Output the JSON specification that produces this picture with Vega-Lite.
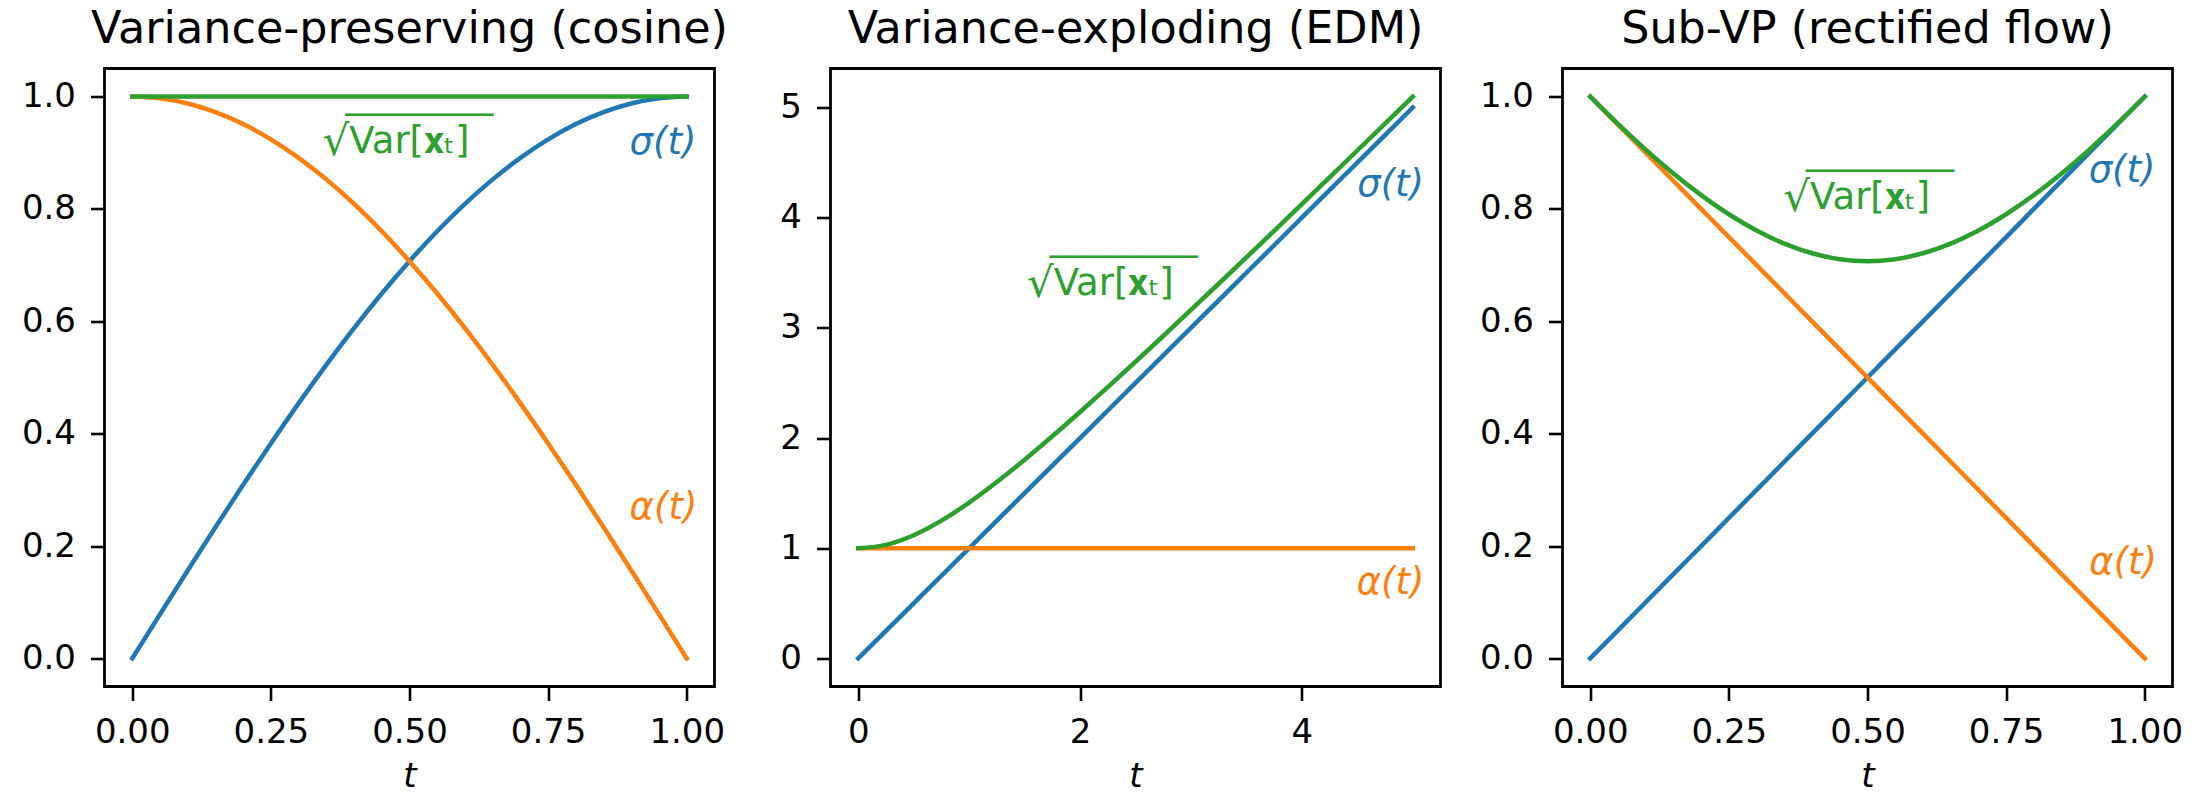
{
  "$schema": "https://vega.github.io/schema/vega-lite/v6.json",
  "autosize": {"type": "pad"},
  "padding": {"left": 19.5, "top": 5.5, "right": 0, "bottom": 0},
  "background": "white",
  "config": {
    "font": "DejaVu Sans",
    "view": {"stroke": "black", "strokeWidth": 2.8},
    "axis": {
      "domain": false, "grid": false, "ticks": true,
      "tickColor": "black", "tickWidth": 2.6, "tickSize": 14,
      "labelFont": "DejaVu Sans", "labelFontSize": 34, "labelColor": "black", "labelPadding": 15,
      "titleFont": "DejaVu Sans", "titleFontSize": 34, "titleFontWeight": "normal",
      "titleFontStyle": "italic", "titleColor": "black"
    },
    "axisX": {"titlePadding": 10},
    "title": {"font": "DejaVu Sans", "fontSize": 44.5, "fontWeight": "normal", "color": "black", "offset": 16},
    "line": {"strokeWidth": 4.5, "strokeCap": "square", "interpolate": "monotone"},
    "text": {"font": "DejaVu Sans", "fontSize": 37}
  },
  "datasets": {
    "vp": [
      {"t": 0, "sigma": 0, "alpha": 1, "sd": 1},
      {"t": 0.05, "sigma": 0.07846, "alpha": 0.99692, "sd": 1},
      {"t": 0.1, "sigma": 0.15643, "alpha": 0.98769, "sd": 1},
      {"t": 0.15, "sigma": 0.23345, "alpha": 0.97237, "sd": 1},
      {"t": 0.2, "sigma": 0.30902, "alpha": 0.95106, "sd": 1},
      {"t": 0.25, "sigma": 0.38268, "alpha": 0.92388, "sd": 1},
      {"t": 0.3, "sigma": 0.45399, "alpha": 0.89101, "sd": 1},
      {"t": 0.35, "sigma": 0.5225, "alpha": 0.85264, "sd": 1},
      {"t": 0.4, "sigma": 0.58779, "alpha": 0.80902, "sd": 1},
      {"t": 0.45, "sigma": 0.64945, "alpha": 0.76041, "sd": 1},
      {"t": 0.5, "sigma": 0.70711, "alpha": 0.70711, "sd": 1},
      {"t": 0.55, "sigma": 0.76041, "alpha": 0.64945, "sd": 1},
      {"t": 0.6, "sigma": 0.80902, "alpha": 0.58779, "sd": 1},
      {"t": 0.65, "sigma": 0.85264, "alpha": 0.5225, "sd": 1},
      {"t": 0.7, "sigma": 0.89101, "alpha": 0.45399, "sd": 1},
      {"t": 0.75, "sigma": 0.92388, "alpha": 0.38268, "sd": 1},
      {"t": 0.8, "sigma": 0.95106, "alpha": 0.30902, "sd": 1},
      {"t": 0.85, "sigma": 0.97237, "alpha": 0.23345, "sd": 1},
      {"t": 0.9, "sigma": 0.98769, "alpha": 0.15643, "sd": 1},
      {"t": 0.95, "sigma": 0.99692, "alpha": 0.07846, "sd": 1},
      {"t": 1, "sigma": 1, "alpha": 0, "sd": 1}
    ],
    "ve": [
      {"t": 0, "sigma": 0, "alpha": 1, "sd": 1},
      {"t": 0.25, "sigma": 0.25, "alpha": 1, "sd": 1.03078},
      {"t": 0.5, "sigma": 0.5, "alpha": 1, "sd": 1.11803},
      {"t": 0.75, "sigma": 0.75, "alpha": 1, "sd": 1.25},
      {"t": 1, "sigma": 1, "alpha": 1, "sd": 1.41421},
      {"t": 1.25, "sigma": 1.25, "alpha": 1, "sd": 1.60078},
      {"t": 1.5, "sigma": 1.5, "alpha": 1, "sd": 1.80278},
      {"t": 1.75, "sigma": 1.75, "alpha": 1, "sd": 2.01556},
      {"t": 2, "sigma": 2, "alpha": 1, "sd": 2.23607},
      {"t": 2.25, "sigma": 2.25, "alpha": 1, "sd": 2.46221},
      {"t": 2.5, "sigma": 2.5, "alpha": 1, "sd": 2.69258},
      {"t": 2.75, "sigma": 2.75, "alpha": 1, "sd": 2.92617},
      {"t": 3, "sigma": 3, "alpha": 1, "sd": 3.16228},
      {"t": 3.25, "sigma": 3.25, "alpha": 1, "sd": 3.40037},
      {"t": 3.5, "sigma": 3.5, "alpha": 1, "sd": 3.64005},
      {"t": 3.75, "sigma": 3.75, "alpha": 1, "sd": 3.88104},
      {"t": 4, "sigma": 4, "alpha": 1, "sd": 4.12311},
      {"t": 4.25, "sigma": 4.25, "alpha": 1, "sd": 4.36606},
      {"t": 4.5, "sigma": 4.5, "alpha": 1, "sd": 4.60977},
      {"t": 4.75, "sigma": 4.75, "alpha": 1, "sd": 4.85412},
      {"t": 5, "sigma": 5, "alpha": 1, "sd": 5.09902}
    ],
    "subvp": [
      {"t": 0, "sigma": 0, "alpha": 1, "sd": 1},
      {"t": 0.05, "sigma": 0.05, "alpha": 0.95, "sd": 0.95131},
      {"t": 0.1, "sigma": 0.1, "alpha": 0.9, "sd": 0.90554},
      {"t": 0.15, "sigma": 0.15, "alpha": 0.85, "sd": 0.86313},
      {"t": 0.2, "sigma": 0.2, "alpha": 0.8, "sd": 0.82462},
      {"t": 0.25, "sigma": 0.25, "alpha": 0.75, "sd": 0.79057},
      {"t": 0.3, "sigma": 0.3, "alpha": 0.7, "sd": 0.76158},
      {"t": 0.35, "sigma": 0.35, "alpha": 0.65, "sd": 0.73824},
      {"t": 0.4, "sigma": 0.4, "alpha": 0.6, "sd": 0.72111},
      {"t": 0.45, "sigma": 0.45, "alpha": 0.55, "sd": 0.71063},
      {"t": 0.5, "sigma": 0.5, "alpha": 0.5, "sd": 0.70711},
      {"t": 0.55, "sigma": 0.55, "alpha": 0.45, "sd": 0.71063},
      {"t": 0.6, "sigma": 0.6, "alpha": 0.4, "sd": 0.72111},
      {"t": 0.65, "sigma": 0.65, "alpha": 0.35, "sd": 0.73824},
      {"t": 0.7, "sigma": 0.7, "alpha": 0.3, "sd": 0.76158},
      {"t": 0.75, "sigma": 0.75, "alpha": 0.25, "sd": 0.79057},
      {"t": 0.8, "sigma": 0.8, "alpha": 0.2, "sd": 0.82462},
      {"t": 0.85, "sigma": 0.85, "alpha": 0.15, "sd": 0.86313},
      {"t": 0.9, "sigma": 0.9, "alpha": 0.1, "sd": 0.90554},
      {"t": 0.95, "sigma": 0.95, "alpha": 0.05, "sd": 0.95131},
      {"t": 1, "sigma": 1, "alpha": 0, "sd": 1}
    ],
    "labels": [
      {"panel": "vp", "series": "sd", "t": 0.505, "y": 0.9, "label": "\u221aVar[\ud835\udc31\u209c]"},
      {"panel": "vp", "series": "sigma", "t": 0.957, "y": 0.917, "label": "\u03c3(t)"},
      {"panel": "vp", "series": "alpha", "t": 0.958, "y": 0.267, "label": "\u03b1(t)"},
      {"panel": "ve", "series": "sd", "t": 2.33, "y": 3.3, "label": "\u221aVar[\ud835\udc31\u209c]"},
      {"panel": "ve", "series": "sigma", "t": 4.8, "y": 4.295, "label": "\u03c3(t)"},
      {"panel": "ve", "series": "alpha", "t": 4.8, "y": 0.68, "label": "\u03b1(t)"},
      {"panel": "subvp", "series": "sd", "t": 0.51, "y": 0.8, "label": "\u221aVar[\ud835\udc31\u209c]"},
      {"panel": "subvp", "series": "sigma", "t": 0.959, "y": 0.867, "label": "\u03c3(t)"},
      {"panel": "subvp", "series": "alpha", "t": 0.961, "y": 0.169, "label": "\u03b1(t)"}
    ]
  },
  "bounds": "flush",
  "spacing": 116,
  "hconcat": [
    {
      "width": 610, "height": 618,
      "title": "Variance-preserving (cosine)",
      "data": {"name": "vp"},
      "encoding": {
        "x": {"field": "t", "type": "quantitative",
              "scale": {"domain": [-0.05, 1.05], "nice": false, "zero": false},
              "axis": {"values": [0, 0.25, 0.5, 0.75, 1], "format": ".2f", "title": "t"}}
      },
      "layer": [
        {"mark": {"type": "line", "color": "#1f77b4"},
         "encoding": {"y": {"field": "sigma", "type": "quantitative",
                            "scale": {"domain": [-0.05, 1.05], "nice": false, "zero": false},
                            "axis": {"values": [0, 0.2, 0.4, 0.6, 0.8, 1], "format": ".1f", "title": null}}}},
        {"mark": {"type": "line", "color": "#ff7f0e"},
         "encoding": {"y": {"field": "alpha", "type": "quantitative"}}},
        {"mark": {"type": "line", "color": "#2ca02c"},
         "encoding": {"y": {"field": "sd", "type": "quantitative"}}},
        {"data": {"name": "labels"},
         "transform": [{"filter": "datum.panel === 'vp' && datum.series !== 'sd'"}],
         "mark": {"type": "text", "fontStyle": "italic", "align": "center", "baseline": "middle"},
         "encoding": {"y": {"field": "y", "type": "quantitative"}, "text": {"field": "label"},
                      "color": {"field": "series", "type": "nominal", "legend": null,
                                "scale": {"domain": ["sigma", "alpha", "sd"], "range": ["#1f77b4", "#ff7f0e", "#2ca02c"]}}}},
        {"data": {"name": "labels"},
         "transform": [{"filter": "datum.panel === 'vp' && datum.series === 'sd'"}],
         "mark": {"type": "text", "color": "#2ca02c", "text": "\u221a", "fontSize": 42, "align": "right", "baseline": "alphabetic", "dx": -63, "dy": 2},
         "encoding": {"y": {"field": "y", "type": "quantitative"}}},
        {"data": {"name": "labels"},
         "transform": [{"filter": "datum.panel === 'vp' && datum.series === 'sd'"}],
         "mark": {"type": "text", "color": "#2ca02c", "text": "Var[\ud835\udc31\u209c]", "align": "left", "baseline": "alphabetic", "dx": -63},
         "encoding": {"y": {"field": "y", "type": "quantitative"}}},
        {"data": {"name": "labels"},
         "transform": [{"filter": "datum.panel === 'vp' && datum.series === 'sd'"}],
         "mark": {"type": "text", "color": "#2ca02c", "text": "\u203e\u203e\u203e\u203e\u203e\u203e\u203e\u203e", "align": "left", "baseline": "alphabetic", "dx": -67, "dy": -11},
         "encoding": {"y": {"field": "y", "type": "quantitative"}}}
      ]
    },
    {
      "bounds": "flush",
      "spacing": 122,
      "hconcat": [
        {
          "width": 610, "height": 618,
          "title": "Variance-exploding (EDM)",
          "data": {"name": "ve"},
          "encoding": {
            "x": {"field": "t", "type": "quantitative",
                  "scale": {"domain": [-0.25, 5.25], "nice": false, "zero": false},
                  "axis": {"values": [0, 2, 4], "format": "d", "title": "t"}}
          },
          "layer": [
            {"mark": {"type": "line", "color": "#1f77b4"},
             "encoding": {"y": {"field": "sigma", "type": "quantitative",
                                "scale": {"domain": [-0.255, 5.354], "nice": false, "zero": false},
                                "axis": {"values": [0, 1, 2, 3, 4, 5], "format": "d", "title": null}}}},
            {"mark": {"type": "line", "color": "#ff7f0e"},
             "encoding": {"y": {"field": "alpha", "type": "quantitative"}}},
            {"mark": {"type": "line", "color": "#2ca02c"},
             "encoding": {"y": {"field": "sd", "type": "quantitative"}}},
            {"data": {"name": "labels"},
             "transform": [{"filter": "datum.panel === 've' && datum.series !== 'sd'"}],
             "mark": {"type": "text", "fontStyle": "italic", "align": "center", "baseline": "middle"},
             "encoding": {"y": {"field": "y", "type": "quantitative"}, "text": {"field": "label"},
                          "color": {"field": "series", "type": "nominal", "legend": null,
                                    "scale": {"domain": ["sigma", "alpha", "sd"], "range": ["#1f77b4", "#ff7f0e", "#2ca02c"]}}}},
            {"data": {"name": "labels"},
             "transform": [{"filter": "datum.panel === 've' && datum.series === 'sd'"}],
             "mark": {"type": "text", "color": "#2ca02c", "text": "\u221a", "fontSize": 42, "align": "right", "baseline": "alphabetic", "dx": -63, "dy": 2},
             "encoding": {"y": {"field": "y", "type": "quantitative"}}},
            {"data": {"name": "labels"},
             "transform": [{"filter": "datum.panel === 've' && datum.series === 'sd'"}],
             "mark": {"type": "text", "color": "#2ca02c", "text": "Var[\ud835\udc31\u209c]", "align": "left", "baseline": "alphabetic", "dx": -63},
             "encoding": {"y": {"field": "y", "type": "quantitative"}}},
            {"data": {"name": "labels"},
             "transform": [{"filter": "datum.panel === 've' && datum.series === 'sd'"}],
             "mark": {"type": "text", "color": "#2ca02c", "text": "\u203e\u203e\u203e\u203e\u203e\u203e\u203e\u203e", "align": "left", "baseline": "alphabetic", "dx": -67, "dy": -11},
             "encoding": {"y": {"field": "y", "type": "quantitative"}}}
          ]
        },
        {
          "width": 610, "height": 618,
          "title": "Sub-VP (rectified flow)",
          "data": {"name": "subvp"},
          "encoding": {
            "x": {"field": "t", "type": "quantitative",
                  "scale": {"domain": [-0.05, 1.05], "nice": false, "zero": false},
                  "axis": {"values": [0, 0.25, 0.5, 0.75, 1], "format": ".2f", "title": "t"}}
          },
          "layer": [
            {"mark": {"type": "line", "color": "#1f77b4"},
             "encoding": {"y": {"field": "sigma", "type": "quantitative",
                                "scale": {"domain": [-0.05, 1.05], "nice": false, "zero": false},
                                "axis": {"values": [0, 0.2, 0.4, 0.6, 0.8, 1], "format": ".1f", "title": null}}}},
            {"mark": {"type": "line", "color": "#ff7f0e"},
             "encoding": {"y": {"field": "alpha", "type": "quantitative"}}},
            {"mark": {"type": "line", "color": "#2ca02c"},
             "encoding": {"y": {"field": "sd", "type": "quantitative"}}},
            {"data": {"name": "labels"},
             "transform": [{"filter": "datum.panel === 'subvp' && datum.series !== 'sd'"}],
             "mark": {"type": "text", "fontStyle": "italic", "align": "center", "baseline": "middle"},
             "encoding": {"y": {"field": "y", "type": "quantitative"}, "text": {"field": "label"},
                          "color": {"field": "series", "type": "nominal", "legend": null,
                                    "scale": {"domain": ["sigma", "alpha", "sd"], "range": ["#1f77b4", "#ff7f0e", "#2ca02c"]}}}},
            {"data": {"name": "labels"},
             "transform": [{"filter": "datum.panel === 'subvp' && datum.series === 'sd'"}],
             "mark": {"type": "text", "color": "#2ca02c", "text": "\u221a", "fontSize": 42, "align": "right", "baseline": "alphabetic", "dx": -63, "dy": 2},
             "encoding": {"y": {"field": "y", "type": "quantitative"}}},
            {"data": {"name": "labels"},
             "transform": [{"filter": "datum.panel === 'subvp' && datum.series === 'sd'"}],
             "mark": {"type": "text", "color": "#2ca02c", "text": "Var[\ud835\udc31\u209c]", "align": "left", "baseline": "alphabetic", "dx": -63},
             "encoding": {"y": {"field": "y", "type": "quantitative"}}},
            {"data": {"name": "labels"},
             "transform": [{"filter": "datum.panel === 'subvp' && datum.series === 'sd'"}],
             "mark": {"type": "text", "color": "#2ca02c", "text": "\u203e\u203e\u203e\u203e\u203e\u203e\u203e\u203e", "align": "left", "baseline": "alphabetic", "dx": -67, "dy": -11},
             "encoding": {"y": {"field": "y", "type": "quantitative"}}}
          ]
        }
      ]
    }
  ]
}
